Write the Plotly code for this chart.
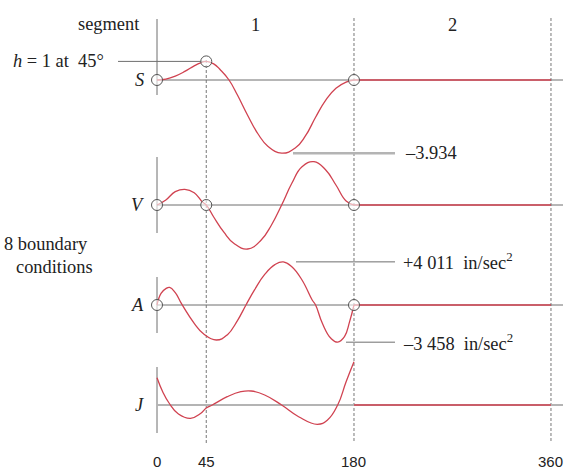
import plotly.graph_objects as go

# ---------------- data ----------------
s_deg = [0, 8.1, 16.7, 25.4, 34.0, 39.8, 45, 51.8, 58.0, 65.8, 73.5, 82.9, 92.2,
         101.5, 113.9, 126.3, 135.6, 144.9, 154.2, 163.5, 172.8, 180]
s_val = [0, 0.05, 0.21, 0.46, 0.76, 0.92, 1.0, 0.87, 0.54, 0, -0.81, -1.91, -2.89,
         -3.57, -3.934, -3.66, -3.01, -2.0, -1.08, -0.44, -0.11, 0]

v_deg = [0, 8.1, 16.7, 25.4, 34.0, 41.2, 45, 51.8, 61.1, 70.4, 82.9, 95.2, 104.6,
         113.9, 123.2, 132.5, 143.4, 154.2, 163.5, 172.8, 180]
v_val = [0, 5.0, 13.3, 15.7, 12.3, 3.3, 0, -12, -27.2, -38.5, -44, -35, -20,
         0, 21.7, 38.3, 43.3, 35, 20, 4, 0]

a_deg = [0, 3.7, 8.1, 11.5, 16.7, 22.5, 34.0, 42.7, 54.2, 64.2, 73.5, 81.3, 89.1,
         98.4, 107.7, 115.4, 123.2, 132.5, 141.8, 144.9, 151.1, 158.9, 165.1,
         171.3, 176.0, 180]
a_val = [0, 1085, 1520, 1640, 1150, 100, -1700, -2700, -3255, -2780, -1450, 0, 1400,
         2840, 3760, 4011, 3565, 2325, 465, 0, -1705, -3100, -3458,
         -2945, -1550, 0]

j_deg = [0, 5.2, 11.0, 19.6, 30.6, 39.8, 45, 50.5, 64.2, 76.6, 86.0, 98.4, 113.9,
         129.4, 146.5, 155.8, 165.1, 172.8, 180]
j_val = [27.3, 13.3, 2, -9, -13.3, -8.5, -3, 0, 8.3, 13.3, 14, 10, 0,
         -11.7, -19.3, -15, 0, 23.3, 43.3]

dwell_deg = [180, 360]
dwell_val = [0, 0]

s_bc_deg = [0, 45, 180]
s_bc_val = [0, 1, 0]
v_bc_deg = [0, 45, 180]
v_bc_val = [0, 0, 0]
a_bc_deg = [0, 180]
a_bc_val = [0, 0]

segment_mid = [90, 270]
segment_labels = ["1", "2"]
tick_vals = [0, 45, 180, 360]
tick_text = ["0", "45", "180", "360"]

s_min = -3.934
a_max = 4011
a_min = -3458

# ---------------- geometry helpers ----------------
W, H = 567, 470
X0_PX, PX_PER_DEG = 157, 1.0944


def xdeg(px):
    return (px - X0_PX) / PX_PER_DEG


def pp(py):
    return 1 - py / H


def yrange(base_px, px_per_unit):
    return [-(H - base_px) / px_per_unit, base_px / px_per_unit]


S_BASE, S_SC = 80, 18.6
V_BASE, V_SC = 205, 1.0
A_BASE, A_SC = 305, 1 / 93.0
J_BASE, J_SC = 405, 1.0

RED = "#d04250"
GRAY = "#6e6e6e"
LIGHT = "#b4b4b4"
SERIF = "Liberation Serif"

fig = go.Figure()

# ---------------- shapes ----------------
shapes = []
for yr, col, w in [("y", GRAY, 1), ("y2", GRAY, 1), ("y3", GRAY, 1), ("y4", LIGHT, 2)]:
    shapes.append(dict(type="line", xref="x", yref=yr, x0=0, x1=xdeg(563), y0=0, y1=0,
                       line=dict(color=col, width=w), layer="below"))
for top, bot in [(19, 95), (157, 233), (277, 333), (367, 433)]:
    shapes.append(dict(type="line", xref="x", yref="paper", x0=0, x1=0, y0=pp(top), y1=pp(bot),
                       line=dict(color=GRAY, width=1), layer="below"))
for xd, top in [(45, 60), (180, 18), (360, 18)]:
    shapes.append(dict(type="line", xref="x", yref="paper", x0=xd, x1=xd, y0=pp(top), y1=pp(443),
                       line=dict(color="#777777", width=1, dash="3px,2px"), layer="below"))
shapes.append(dict(type="line", xref="x", yref="y", x0=xdeg(118), x1=45, y0=1, y1=1,
                   line=dict(color=GRAY, width=1), layer="below"))
shapes.append(dict(type="line", xref="x", yref="y", x0=xdeg(293), x1=xdeg(395), y0=s_min, y1=s_min,
                   line=dict(color=LIGHT, width=2.5), layer="below"))
shapes.append(dict(type="line", xref="x", yref="y3", x0=xdeg(296), x1=xdeg(395), y0=a_max, y1=a_max,
                   line=dict(color=GRAY, width=1), layer="below"))
shapes.append(dict(type="line", xref="x", yref="y3", x0=xdeg(346), x1=xdeg(395), y0=a_min, y1=a_min,
                   line=dict(color=GRAY, width=1), layer="below"))

# ---------------- traces ----------------
for xs, ys, ya in [(s_deg, s_val, "y"), (v_deg, v_val, "y2"), (a_deg, a_val, "y3"), (j_deg, j_val, "y4")]:
    fig.add_trace(go.Scatter(x=xs, y=ys, yaxis=ya, mode="lines",
                             line=dict(color=RED, width=1.3, shape="spline", smoothing=1.3),
                             hoverinfo="skip", showlegend=False))
    fig.add_trace(go.Scatter(x=dwell_deg, y=dwell_val, yaxis=ya, mode="lines",
                             line=dict(color=RED, width=1.3),
                             hoverinfo="skip", showlegend=False))

for xs, ys, ya in [(s_bc_deg, s_bc_val, "y"), (v_bc_deg, v_bc_val, "y2"), (a_bc_deg, a_bc_val, "y3")]:
    fig.add_trace(go.Scatter(x=xs, y=ys, yaxis=ya, mode="markers",
                             marker=dict(symbol="circle", size=11, color="rgba(255,255,255,0.6)",
                                         line=dict(color="#555555", width=1)),
                             hoverinfo="skip", showlegend=False))

# ---------------- annotations ----------------
ann = []
TXT = dict(family=SERIF, size=18.4, color="#222222")


def add(x, y, text, xref="x", yref="paper", xanchor="center", font=TXT):
    ann.append(dict(x=x, y=y, xref=xref, yref=yref, text=text, showarrow=False,
                    xanchor=xanchor, yanchor="middle", font=font))


add(xdeg(141), pp(24), "segment", xanchor="right")
for xm, lab in zip(segment_mid, segment_labels):
    add(xm, pp(25), lab)
add(xdeg(106), 1, "<i>h</i> = 1 at  45°", yref="y", xanchor="right")
for lab, yr in [("S", "y"), ("V", "y2"), ("A", "y3"), ("J", "y4")]:
    add(xdeg(146), 0, "<i>%s</i>" % lab, yref=yr, xanchor="right")
add(xdeg(2), pp(244), "8 boundary", xanchor="left")
add(xdeg(14), pp(267), "conditions", xanchor="left")
add(xdeg(403), s_min, "–3.934", yref="y", xanchor="left")
add(xdeg(401), a_max, "+4 011  in/sec<sup>2</sup>", yref="y3", xanchor="left")
add(xdeg(401), a_min, "–3 458  in/sec<sup>2</sup>", yref="y3", xanchor="left")
for tv, tt in zip(tick_vals, tick_text):
    add(tv, pp(461), tt, font=dict(family="Liberation Sans", size=15, color="#222222"))

ax_common = dict(visible=False, fixedrange=True)
fig.update_layout(
    width=W, height=H,
    margin=dict(l=0, r=0, t=0, b=0),
    paper_bgcolor="white", plot_bgcolor="white",
    showlegend=False,
    xaxis=dict(range=[xdeg(0), xdeg(W)], domain=[0, 1], **ax_common),
    yaxis=dict(range=yrange(S_BASE, S_SC), domain=[0, 1], **ax_common),
    yaxis2=dict(range=yrange(V_BASE, V_SC), overlaying="y", **ax_common),
    yaxis3=dict(range=yrange(A_BASE, A_SC), overlaying="y", **ax_common),
    yaxis4=dict(range=yrange(J_BASE, J_SC), overlaying="y", **ax_common),
    shapes=shapes,
    annotations=ann,
)

fig.write_html("out.html", config={"displayModeBar": False},
               post_script="document.body.style.margin='0';document.body.style.overflow='hidden';")
